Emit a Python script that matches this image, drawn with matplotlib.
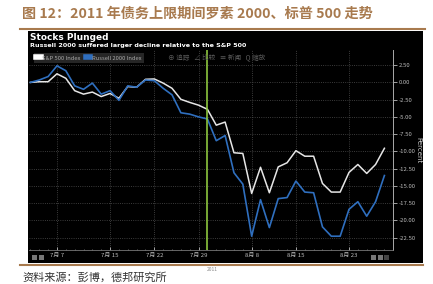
# -*- coding: utf-8 -*-

import matplotlib
matplotlib.use("Agg")
import matplotlib.pyplot as plt
from matplotlib.patches import Rectangle
from matplotlib.lines import Line2D

plt.rcParams['font.family'] = ['Noto Sans CJK SC', 'DejaVu Sans']

# trading days 2011-07-01 .. 2011-08-29, index = trading day number
tick_pos = [3, 9, 14, 19, 25, 30, 36]
tick_labels = ['7月 7', '7月 15', '7月 22', '7月 29', '8月 8', '8月 15', '8月 23']
deal_day = 20  # 8月 1

# percent change since 7/1
spx = [0, 0.1, 0.1, 1.25, 0.6, -1.2, -1.7, -1.4, -2.05, -1.6,
       -2.3, -0.6, -0.7, 0.45, 0.5, -0.1, -0.85, -2.45, -2.9, -3.3,
       -3.9, -6.2, -5.75, -10.2, -10.3, -16.1, -12.3, -16.0, -12.25, -11.65,
       -9.9, -10.7, -10.7, -14.65, -15.9, -15.9, -13.05, -11.9, -13.2, -11.9,
       -9.55]
rut = [0, 0.35, 0.85, 2.4, 1.7, -0.5, -1.0, -0.1, -1.7, -1.2,
       -2.6, -0.5, -0.7, 0.35, 0.25, -0.85, -1.8, -4.4, -4.6, -5.0,
       -5.3, -8.45, -7.7, -13.1, -14.75, -22.3, -17.0, -21.05, -16.85, -16.7,
       -14.3, -15.9, -16.0, -20.95, -22.3, -22.3, -18.4, -17.3, -19.4, -17.3,
       -13.5]
yticks = [2.5, 0, -2.5, -5, -7.5, -10, -12.5, -15, -17.5, -20, -22.5]

W, H = 433.0, 284.0


def fx(x):
    return x / W


def fy(y):
    return 1 - y / H


fig = plt.figure(figsize=(4.33, 2.84), dpi=100)
fig.patch.set_facecolor('white')

brown = '#a87a4e'
# title and rules
fig.text(fx(22), fy(14), '图 12：2011 年债务上限期间罗素 2000、标普 500 走势',
         color=brown, fontsize=10.2, fontweight='bold', va='center', ha='left')
fig.add_artist(Line2D([fx(20), fx(425)], [fy(28.5), fy(28.5)], color=brown, lw=1.5))
fig.add_artist(Line2D([fx(20), fx(423)], [fy(265), fy(265)], color=brown, lw=1.5))
fig.text(fx(22), fy(277), '资料来源：彭博，德邦研究所', color='#333333',
         fontsize=8, va='center', ha='left')

# black terminal panel
fig.add_artist(Rectangle((fx(28), fy(263)), fx(423) - fx(28), fy(31) - fy(263),
                         transform=fig.transFigure, facecolor='black',
                         edgecolor='none', zorder=0))

fig.text(fx(30), fy(38), 'Stocks Plunged', color='white', fontsize=6.5,
         fontweight='bold', va='center', family='DejaVu Sans')
fig.text(fx(30), fy(45.5), 'Russell 2000 suffered larger decline relative to the S&P 500',
         color='white', fontsize=4.6, fontweight='bold', va='center', family='DejaVu Sans')
fig.text(fx(168), fy(57), '⊕ 追踪   ∠ 比较   ≡ 新闻   Q 缩放', color='#5a5a5a',
         fontsize=4.8, va='center')
fig.text(fx(418), fy(150), 'Percent', color='#d0d0d0', fontsize=5,
         rotation=270, va='center', ha='center', family='DejaVu Sans')

ax = fig.add_axes([fx(29), fy(250), fx(393) - fx(29), fy(50) - fy(250)])
ax.set_facecolor('black')
x = list(range(len(spx)))
ax.plot(x, spx, color='#e6e6e6', lw=1.1, label='S&P 500 Index', zorder=3)
ax.plot(x, rut, color='#2f6fbf', lw=1.2, label='Russell 2000 Index', zorder=3)
ax.axvline(deal_day, color='#8cc63e', lw=1.2, zorder=4)

ax.set_xlim(-0.16, 40.97)
ax.set_ylim(-24.3, 4.7)
ax.set_yticks(yticks)
ax.set_yticklabels(['%.2f' % v for v in yticks])
ax.yaxis.tick_right()
ax.set_xticks(tick_pos)
ax.set_xticklabels(tick_labels)
ax.set_xticks(x, minor=True)
ax.tick_params(axis='y', colors='#bbbbbb', labelsize=4.3, length=3, width=0.6,
               direction='out', pad=1)
ax.tick_params(axis='x', colors='#bbbbbb', labelsize=4.3, length=2, width=0.6,
               direction='in', pad=2)
ax.tick_params(axis='x', which='minor', colors='#888888', length=1, width=0.5,
               direction='in')
ax.grid(True, color='#4f4f4f', linestyle=':', lw=0.6)
for side in ['top', 'left']:
    ax.spines[side].set_visible(False)
ax.spines['right'].set_color('#aaaaaa')
ax.spines['right'].set_linewidth(0.7)
ax.spines['bottom'].set_color('#777777')
ax.spines['bottom'].set_linewidth(0.6)
ax.text(deal_day + 0.6, -27.1, '2011', color='#888888', fontsize=3.5,
        ha='center', va='center', clip_on=False)

leg = ax.legend(loc='upper left', bbox_to_anchor=(0.005, 1.0), ncol=2,
                fontsize=4.2, frameon=True, facecolor='#262626', edgecolor='none',
                labelcolor='#aaaaaa', handlelength=0.8, handleheight=0.8,
                columnspacing=0.8, handletextpad=0.3, borderpad=0.4,
                fancybox=False, framealpha=1)
for h, c in zip(leg.legend_handles, ['white', '#2f6fbf']):
    h.set_linewidth(4)
    h.set_color(c)

# scroll buttons
for bx in [32, 38.5]:
    fig.add_artist(Rectangle((fx(bx), fy(259.5)), 5 / W, 5 / H, transform=fig.transFigure,
                             facecolor='#777777', edgecolor='none'))
for bx in [371, 377.5, 384]:
    fig.add_artist(Rectangle((fx(bx), fy(259.5)), 5 / W, 5 / H, transform=fig.transFigure,
                             facecolor='#777777' if bx < 384 else '#444444',
                             edgecolor='none'))

fig.savefig('out.png', dpi=100, facecolor='white')
